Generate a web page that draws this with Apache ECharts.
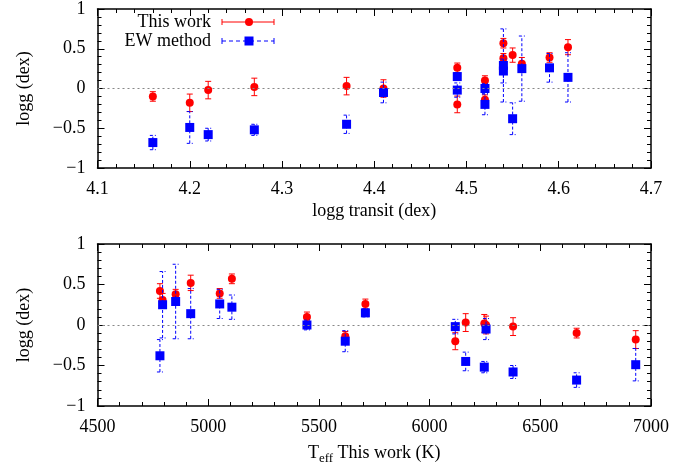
<!DOCTYPE html>
<html>
<head>
<meta charset="utf-8">
<script src="https://cdn.jsdelivr.net/npm/echarts@6/dist/echarts.min.js"></script>
<style>html,body{margin:0;padding:0;background:#fff}#c{width:695px;height:468px}</style>
</head>
<body>
<div id="c"></div>
<script>
// ---- data ----
const loggTransit = [4.16, 4.20, 4.22, 4.27, 4.37, 4.41, 4.49, 4.49, 4.52, 4.52, 4.54, 4.54, 4.55, 4.56, 4.59, 4.61];
const teffThisWork = [6664, 6931, 6377, 6247, 6163, 6255, 5710, 6116, 5446, 5619, 5107, 4853, 4782, 4794, 5052, 4921];
const dLoggThisWork = [-0.10, -0.18, -0.02, 0.02, 0.03, 0.00, 0.26, -0.20, 0.10, -0.14, 0.57, 0.38, 0.42, 0.31, 0.39, 0.52];
const errThisWork   = [0.06, 0.11, 0.11, 0.11, 0.11, 0.11, 0.06, 0.105, 0.06, 0.06, 0.06, 0.06, 0.09, 0.08, 0.06, 0.095];
const dLoggEW = [-0.68, -0.49, -0.58, -0.52, -0.45, -0.05, 0.15, -0.02, 0.00, -0.20, 0.22, 0.29, -0.38, 0.25, 0.26, 0.14];
const errEW   = [0.09, 0.20, 0.08, 0.07, 0.115, 0.13, 0.05, 0.09, 0.06, 0.13, 0.15, 0.46, 0.20, 0.41, 0.18, 0.31];
const topXTicks = [4.1, 4.7, 0.1];
const botXTicks = [4500, 7000, 500];
const yTicks = [-1, 1, 0.5];

const FONT = 'Liberation Serif';
const RED = '#ff0000', BLUE = '#0000ff';

function rows(xs, ys, es) { return xs.map((x, i) => [x, ys[i], es[i]]); }

function errRender(color, dashed) {
  return function (params, api) {
    const x = api.value(0), y = api.value(1), e = api.value(2);
    const p0 = api.coord([x, y - e]), p1 = api.coord([x, y + e]);
    const w = 3;
    const style = { stroke: color, lineWidth: 1, lineDash: dashed ? [3, 2] : null, fill: null };
    return {
      type: 'group',
      children: [
        { type: 'line', shape: { x1: p0[0], y1: p0[1], x2: p1[0], y2: p1[1] }, style: style },
        { type: 'line', shape: { x1: p0[0] - w, y1: p0[1], x2: p0[0] + w, y2: p0[1] }, style: style },
        { type: 'line', shape: { x1: p1[0] - w, y1: p1[1], x2: p1[0] + w, y2: p1[1] }, style: style }
      ]
    };
  };
}

const labelStyle = { fontFamily: FONT, fontSize: 18, color: '#000' };
const lineBlack = { show: true, onZero: false, lineStyle: { color: '#000', width: 1.5 } };

function xAxes(grid, t, name, fmt, nameObj) {
  const base = {
    gridIndex: grid, type: 'value', min: t[0], max: t[1], interval: t[2],
    axisLine: lineBlack, splitLine: { show: false },
    axisTick: { show: true, inside: true, length: 7, lineStyle: { color: '#000' } },
    minorTick: { show: true, splitNumber: 5, length: 4, lineStyle: { color: '#000' } },
    minorSplitLine: { show: false }
  };
  return [
    Object.assign({}, base, {
      position: 'bottom',
      axisLabel: Object.assign({ margin: 12, formatter: fmt }, labelStyle),
      name: name, nameLocation: 'middle', nameGap: 34,
      nameTextStyle: Object.assign({}, labelStyle, nameObj || {})
    }),
    Object.assign({}, base, { position: 'top', axisLabel: { show: false } })
  ];
}
function yAxes(grid) {
  const base = {
    gridIndex: grid, type: 'value', min: yTicks[0], max: yTicks[1], interval: yTicks[2],
    axisLine: lineBlack, splitLine: { show: false },
    axisTick: { show: true, inside: true, length: 7, lineStyle: { color: '#000' } },
    minorTick: { show: true, splitNumber: 5, length: 4, lineStyle: { color: '#000' } }
  };
  return [
    Object.assign({}, base, {
      position: 'left',
      axisLabel: Object.assign({ margin: 12, formatter: v => String(v).replace('-', '\u2212') }, labelStyle),
      name: 'logg (dex)', nameLocation: 'middle', nameGap: 64, nameRotate: 90,
      nameTextStyle: labelStyle
    }),
    Object.assign({}, base, { position: 'right', axisLabel: { show: false } })
  ];
}

function panelSeries(xi, yi, xs) {
  return [
    {
      type: 'custom', xAxisIndex: xi, yAxisIndex: yi, z: 1,
      renderItem: errRender(RED, false), data: rows(xs, dLoggThisWork, errThisWork),
      encode: { x: 0, y: 1 }, silent: true,
      markLine: {
        silent: true, symbol: 'none', label: { show: false },
        lineStyle: { color: '#888', type: [2, 3], width: 1.2 },
        data: [{ yAxis: 0 }]
      }
    },
    {
      type: 'scatter', xAxisIndex: xi, yAxisIndex: yi, z: 2, symbol: 'circle', symbolSize: 8,
      itemStyle: { color: RED, opacity: 1 }, data: rows(xs, dLoggThisWork, errThisWork)
    },
    {
      type: 'custom', xAxisIndex: xi, yAxisIndex: yi, z: 3,
      renderItem: errRender(BLUE, true), data: rows(xs, dLoggEW, errEW),
      encode: { x: 0, y: 1 }, silent: true
    },
    {
      type: 'scatter', xAxisIndex: xi, yAxisIndex: yi, z: 4, symbol: 'rect', symbolSize: 9,
      itemStyle: { color: BLUE, opacity: 1 }, data: rows(xs, dLoggEW, errEW)
    }
  ];
}

const chart = echarts.init(document.getElementById('c'), null, { renderer: 'canvas' });
const topX = xAxes(0, topXTicks, 'logg transit (dex)', v => v.toFixed(1));
const botX = xAxes(1, botXTicks, '{t|T}{s|eff}{t| This work (K)}', v => String(v),
  { rich: { t: { fontFamily: FONT, fontSize: 18, color: '#000' }, s: { fontFamily: FONT, fontSize: 13, color: '#000', padding: [10, 0, 0, 0] } } });
botX[0].nameGap = 36;

chart.setOption({
  animation: false,
  backgroundColor: '#fff',
  grid: [
    { left: 97.5, right: 44, top: 5, height: 163 },
    { left: 97.5, right: 44, top: 244, height: 162 }
  ],
  xAxis: [topX[0], topX[1], botX[0], botX[1]],
  yAxis: yAxes(0).concat(yAxes(1)),
  series: panelSeries(0, 0, loggTransit).concat(panelSeries(2, 2, teffThisWork)),
  graphic: [
    { type: 'text', x: 211, y: 22, style: { text: 'This work', font: '18px "Liberation Serif"', fill: '#000', align: 'right', verticalAlign: 'middle' } },
    { type: 'line', shape: { x1: 222, y1: 22, x2: 274, y2: 22 }, style: { stroke: RED, lineWidth: 1 } },
    { type: 'line', shape: { x1: 222, y1: 19, x2: 222, y2: 25 }, style: { stroke: RED, lineWidth: 1 } },
    { type: 'line', shape: { x1: 274, y1: 19, x2: 274, y2: 25 }, style: { stroke: RED, lineWidth: 1 } },
    { type: 'circle', shape: { cx: 249, cy: 22, r: 4 }, style: { fill: RED } },
    { type: 'text', x: 211, y: 41, style: { text: 'EW method', font: '18px "Liberation Serif"', fill: '#000', align: 'right', verticalAlign: 'middle' } },
    { type: 'line', shape: { x1: 222, y1: 41, x2: 274, y2: 41 }, style: { stroke: BLUE, lineWidth: 1, lineDash: [4, 3] } },
    { type: 'line', shape: { x1: 222, y1: 38, x2: 222, y2: 44 }, style: { stroke: BLUE, lineWidth: 1 } },
    { type: 'line', shape: { x1: 274, y1: 38, x2: 274, y2: 44 }, style: { stroke: BLUE, lineWidth: 1 } },
    { type: 'rect', shape: { x: 244.5, y: 36.5, width: 9, height: 9 }, style: { fill: BLUE } }
  ]
});
</script>
</body>
</html>
